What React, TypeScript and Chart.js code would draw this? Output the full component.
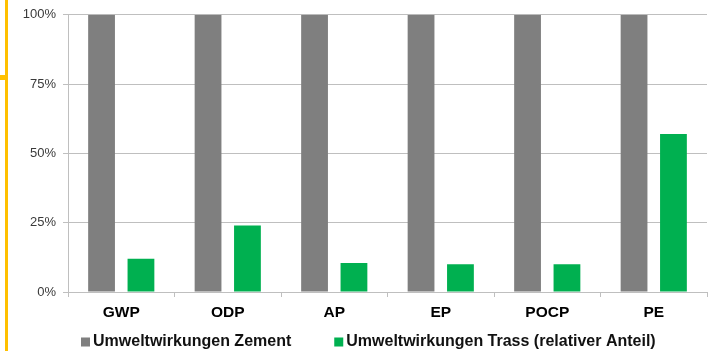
import React, { useEffect, useRef } from "react";
import { Chart, registerables } from "chart.js";

Chart.register(...registerables);

const categories = ["GWP", "ODP", "AP", "EP", "POCP", "PE"];
const zementValues = [100, 100, 100, 100, 100, 100];
const trassValues = [12, 24, 10.5, 10, 10, 57];
const yTicks = [0, 25, 50, 75, 100];
const seriesLabels = ["Umweltwirkungen Zement", "Umweltwirkungen Trass (relativer Anteil)"];

const GRID = "#bfbfbf";
const FONT = "'Liberation Sans', Arial, sans-serif";

// Yellow page marker at the left edge
const edgeMarker = {
  id: "edgeMarker",
  afterDraw(chart: any) {
    const { ctx } = chart;
    ctx.save();
    ctx.fillStyle = "#ffc000";
    ctx.fillRect(5, 0, 3, chart.height);
    ctx.fillRect(0, 75, 6, 5);
    ctx.restore();
  },
};

// Legend drawn along the bottom edge, one square swatch per dataset
const bottomLegend = {
  id: "bottomLegend",
  afterDraw(chart: any) {
    const { ctx } = chart;
    const datasets = chart.data.datasets;
    ctx.save();
    ctx.font = `bold 16px ${FONT}`;
    ctx.textBaseline = "middle";
    ctx.textAlign = "left";
    let x = 81;
    const y = 342;
    datasets.forEach((ds: any) => {
      ctx.fillStyle = ds.backgroundColor;
      ctx.fillRect(x, y - 4.5, 9, 9);
      ctx.fillStyle = "#111111";
      ctx.fillText(ds.label, x + 12, y);
      x += 12 + ctx.measureText(ds.label).width + 43;
    });
    ctx.restore();
  },
};

export default function App() {
  const canvasRef = useRef<HTMLCanvasElement>(null);

  useEffect(() => {
    if (!canvasRef.current) return;
    const chart = new Chart(canvasRef.current, {
      type: "bar",
      data: {
        labels: categories,
        datasets: [
          {
            label: seriesLabels[0],
            data: zementValues,
            backgroundColor: "#7f7f7f",
            borderWidth: 0,
          },
          {
            label: seriesLabels[1],
            data: trassValues,
            backgroundColor: "#00b050",
            borderWidth: 0,
          },
        ],
      },
      options: {
        responsive: false,
        animation: false,
        datasets: {
          bar: { categoryPercentage: 0.74, barPercentage: 0.68 },
        },
        layout: { padding: { top: 14, right: 1, left: 0, bottom: 24 } },
        plugins: {
          legend: { display: false },
          tooltip: { enabled: false },
        },
        scales: {
          x: {
            grid: {
              drawOnChartArea: false,
              drawTicks: true,
              tickLength: 5,
              color: GRID,
              offset: true,
            },
            border: { color: GRID, width: 1 },
            ticks: {
              color: "#000000",
              font: { family: FONT, size: 15.5, weight: "bold" },
              padding: 6,
            },
            afterFit(scale: any) {
              scale.height = 35;
            },
          },
          y: {
            min: 0,
            max: 100,
            afterBuildTicks(scale: any) {
              scale.ticks = yTicks.map((v) => ({ value: v }));
            },
            grid: {
              color: GRID,
              tickLength: 5,
              drawTicks: true,
            },
            border: { color: GRID, width: 1 },
            ticks: {
              color: "#3a3a3a",
              font: { family: FONT, size: 13 },
              padding: 7,
              callback: (v: any) => `${v}%`,
            },
            afterFit(scale: any) {
              scale.width = 68;
            },
          },
        },
      },
      plugins: [edgeMarker, bottomLegend],
    });
    return () => chart.destroy();
  }, []);

  return (
    <div style={{ position: "fixed", left: 0, top: 0, width: 708, height: 351, background: "#ffffff" }}>
      <canvas ref={canvasRef} width={708} height={351} />
    </div>
  );
}
